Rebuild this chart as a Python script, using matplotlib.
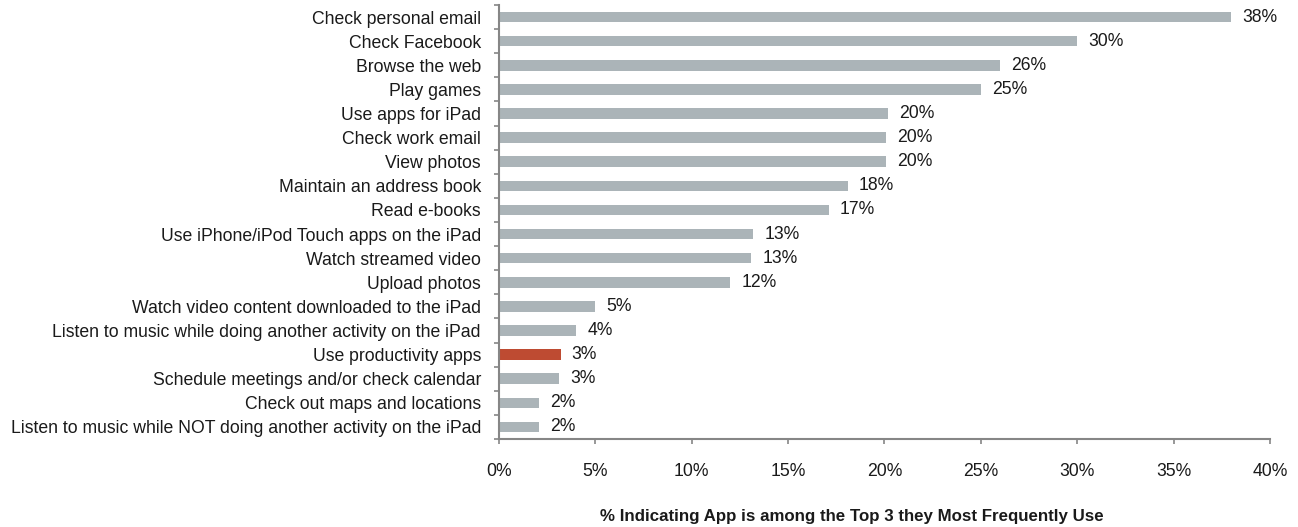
import numpy as np
import matplotlib
matplotlib.use("Agg")
import matplotlib.pyplot as plt
from matplotlib.ticker import FixedLocator, PercentFormatter

plt.rcParams['font.family'] = ['Liberation Sans', 'DejaVu Sans']

# data, top to bottom as in the chart
activities = [
    "Check personal email",
    "Check Facebook",
    "Browse the web",
    "Play games",
    "Use apps for iPad",
    "Check work email",
    "View photos",
    "Maintain an address book",
    "Read e-books",
    "Use iPhone/iPod Touch apps on the iPad",
    "Watch streamed video",
    "Upload photos",
    "Watch video content downloaded to the iPad",
    "Listen to music while doing another activity on the iPad",
    "Use productivity apps",
    "Schedule meetings and/or check calendar",
    "Check out maps and locations",
    "Listen to music while NOT doing another activity on the iPad",
]
pct = [38.0, 30.0, 26.0, 25.0, 20.2, 20.1, 20.1, 18.1, 17.1, 13.2, 13.1, 12.0,
       5.0, 4.0, 3.2, 3.1, 2.1, 2.1]
pct_labels = ["38%", "30%", "26%", "25%", "20%", "20%", "20%", "18%", "17%",
              "13%", "13%", "12%", "5%", "4%", "3%", "3%", "2%", "2%"]
highlight = "Use productivity apps"

GREY = "#abb4b8"
RED = "#be4b32"
AXIS = "#868686"
TXT = "#1a1a1a"
FS = 12.7

fig = plt.figure(figsize=(12.98, 5.27), dpi=100)
ax = fig.add_axes([0.3844, 0.167, 0.594, 0.8235])

y = np.arange(len(activities))
colors = [RED if a == highlight else GREY for a in activities]
ax.barh(y, pct, height=0.44, color=colors, zorder=2)

for yi, v, lab in zip(y, pct, pct_labels):
    ax.annotate(lab, xy=(v, yi), xytext=(8, 0), textcoords="offset points",
                ha="left", va="center", fontsize=FS, color=TXT)

ax.set_ylim(len(activities) - 0.5, -0.5)
ax.set_xlim(0, 40)

ax.set_yticks(y)
ax.set_yticklabels(activities, fontsize=FS, color=TXT)
ax.yaxis.set_minor_locator(FixedLocator(np.arange(-0.5, len(activities), 1.0)))
ax.tick_params(axis="y", which="major", length=0, pad=13)
ax.tick_params(axis="y", which="minor", length=3.5, color=AXIS, width=1.2)

ax.set_xticks(np.arange(0, 41, 5))
ax.xaxis.set_major_formatter(PercentFormatter(decimals=0))
ax.tick_params(axis="x", length=3.5, color=AXIS, width=1.2, labelsize=FS,
               pad=14, labelcolor=TXT)

for s in ["top", "right"]:
    ax.spines[s].set_visible(False)
for s in ["left", "bottom"]:
    ax.spines[s].set_color(AXIS)
    ax.spines[s].set_linewidth(1.5)

ax.set_xlabel("% Indicating App is among the Top 3 they Most Frequently Use",
              fontsize=12.2, fontweight="bold", color=TXT)
# the title sits a bit left of the axis centre in the original
ax.xaxis.set_label_coords(0.458, -0.162)

fig.savefig("out.png", dpi=100)
